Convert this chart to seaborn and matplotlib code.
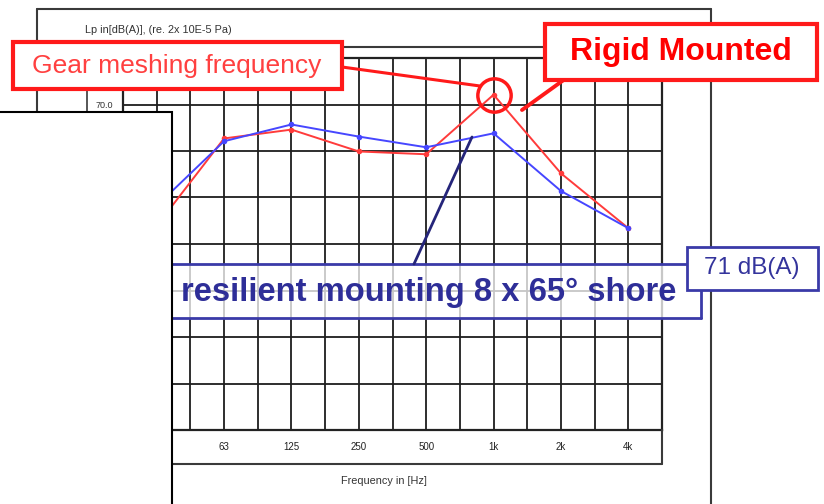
"""
Third-octave spectrum, rigid vs. resilient mounting (scanned sheet look).
"""
import numpy as np
import pandas as pd
import matplotlib
matplotlib.use("Agg")
import matplotlib.pyplot as plt
from matplotlib.lines import Line2D
from matplotlib.patches import Rectangle
import seaborn as sns

# octave band centres and levels in dB(A)
bands = ['31.5', '63', '125', '250', '500', '1k', '2k', '4k']
rigid_db = [43.9, 62.7, 64.6, 59.9, 59.3, 72.1, 55.2, 43.4]
resilient_db = [48.2, 62.1, 65.7, 63.1, 60.8, 63.8, 51.4, 43.4]
y_ticks = [0, 10, 20, 30, 40, 50, 60, 70, 80]
y_labels = ['0.0', '10.0', '20.0', '30.0', '40.0', '50.0', '60.0', '70.0', '']

W, H = 824, 504

sns.set_style('white')
plt.rcParams['font.family'] = ['Liberation Sans', 'DejaVu Sans']

df = pd.DataFrame({
    'pos': list(range(len(bands))) * 2,
    'level': rigid_db + resilient_db,
    'mounting': ['rigid'] * len(bands) + ['resilient'] * len(bands),
})


def fx(x):
    return x / W


def fy(y):
    return 1 - y / H


def fig_line(fig, x1, y1, x2, y2, **kw):
    fig.add_artist(Line2D([fx(x1), fx(x2)], [fy(y1), fy(y2)],
                          transform=fig.transFigure, **kw))


def fig_rect(fig, x1, y1, x2, y2, **kw):
    fig.add_artist(Rectangle((fx(x1), fy(y2)), fx(x2) - fx(x1), fy(y1) - fy(y2),
                             transform=fig.transFigure, **kw))


fig = plt.figure(figsize=(W / 100, H / 100), dpi=100)
ax = fig.add_axes([fx(123), fy(430), fx(662) - fx(123), fy(58) - fy(430)])

sns.lineplot(data=df, x='pos', y='level', hue='mounting',
             palette={'rigid': '#ff3b3b', 'resilient': '#4646ff'},
             marker='o', markersize=4, markeredgewidth=0, linewidth=1.4,
             legend=False, ax=ax, zorder=3)

ax.set_xlim(-0.5, len(bands) - 0.5)
ax.set_ylim(0, 80)
ax.set_xticks(range(len(bands)))
ax.set_xticklabels(bands, fontsize=7, color='#222222')
ax.set_xticks(np.arange(-0.5, len(bands), 0.5), minor=True)
ax.set_yticks(y_ticks)
ax.set_yticklabels(y_labels, fontsize=6.5, color='#333333')
ax.tick_params(axis='x', which='both', length=0, pad=9)
ax.tick_params(axis='y', length=6, width=1.2, color='#333333', pad=1)
ax.grid(True, which='both', axis='x', color='#1e1e1e', linewidth=1.3)
ax.grid(True, which='major', axis='y', color='#1e1e1e', linewidth=1.3)
ax.set_xlabel('')
ax.set_ylabel('')
for s in ax.spines.values():
    s.set_color('#222222')
    s.set_linewidth(1.6)

# circle around the gear meshing peak
peak = int(np.argmax(rigid_db))
ax.plot(peak, rigid_db[peak], marker='o', markersize=24, markerfacecolor='none',
        markeredgecolor='#ff1a1a', markeredgewidth=2.5, zorder=5, clip_on=False)

# scanned sheet frame
frame = dict(color='#3a3a3a', linewidth=1.5)
fig_line(fig, 37, 9, 711, 9, **frame)
fig_line(fig, 37, 9, 37, 504, **frame)
fig_line(fig, 711, 9, 711, 504, **frame)
fig_line(fig, 37, 47, 711, 47, **frame)
fig_line(fig, 87, 47, 87, 464, color='#3a3a3a', linewidth=1.2)
fig_line(fig, 87, 464, 662, 464, **frame)
fig_line(fig, 662, 430, 662, 464, **frame)
fig.text(fx(85), fy(30), 'Lp in[dB(A)], (re. 2x 10E-5 Pa)', fontsize=7.8,
         color='#333333', va='center', ha='left')
fig.text(fx(384), fy(481), 'Frequency in [Hz]', fontsize=7.8, color='#333333',
         va='center', ha='center')

# resilient mounting callout
navy = '#3a3aa8'
fig_rect(fig, 100, 264, 701, 318, facecolor='white', alpha=0.75,
         edgecolor='none', zorder=4)
fig_line(fig, 100, 264, 690, 264, color=navy, linewidth=2, zorder=5)
fig_line(fig, 100, 318, 701, 318, color=navy, linewidth=2, zorder=5)
fig_line(fig, 701, 290, 701, 318, color=navy, linewidth=2, zorder=5)
fig.text(fx(181), fy(293), 'resilient mounting 8 x 65° shore', fontsize=23.6,
         fontweight='bold', color='#2e2e98', va='center', ha='left', zorder=6)
fig_line(fig, 472, 137, 414, 264, color='#25257a', linewidth=2, zorder=5)
fig_rect(fig, 687, 247, 818, 290, facecolor='white', edgecolor=navy,
         linewidth=2, zorder=6)
fig.text(fx(752), fy(268), '71 dB(A)', fontsize=17.5, color='#34349c',
         va='center', ha='center', zorder=7)

# blank sheet covering the left side
fig_rect(fig, -5, 112, 172, 510, facecolor='white', edgecolor='black',
         linewidth=1.5, zorder=8)

# rigid mounted callouts
red = '#ff1a1a'
fig_line(fig, 342, 67, 480, 86, color=red, linewidth=2.2, zorder=9)
fig_line(fig, 565, 79, 522, 110, color=red, linewidth=2.8, zorder=9)
fig_rect(fig, 13, 42, 342, 89, facecolor='white', edgecolor=red,
         linewidth=3, zorder=9)
fig.text(fx(177), fy(66), 'Gear meshing frequency', fontsize=19,
         color='#ff4040', va='center', ha='center', zorder=10)
fig_rect(fig, 545, 24, 817, 80, facecolor='white', edgecolor=red,
         linewidth=3, zorder=9)
fig.text(fx(681), fy(52), 'Rigid Mounted', fontsize=23, fontweight='bold',
         color='#ff0000', va='center', ha='center', zorder=10)

fig.savefig('out.png', dpi=100)
